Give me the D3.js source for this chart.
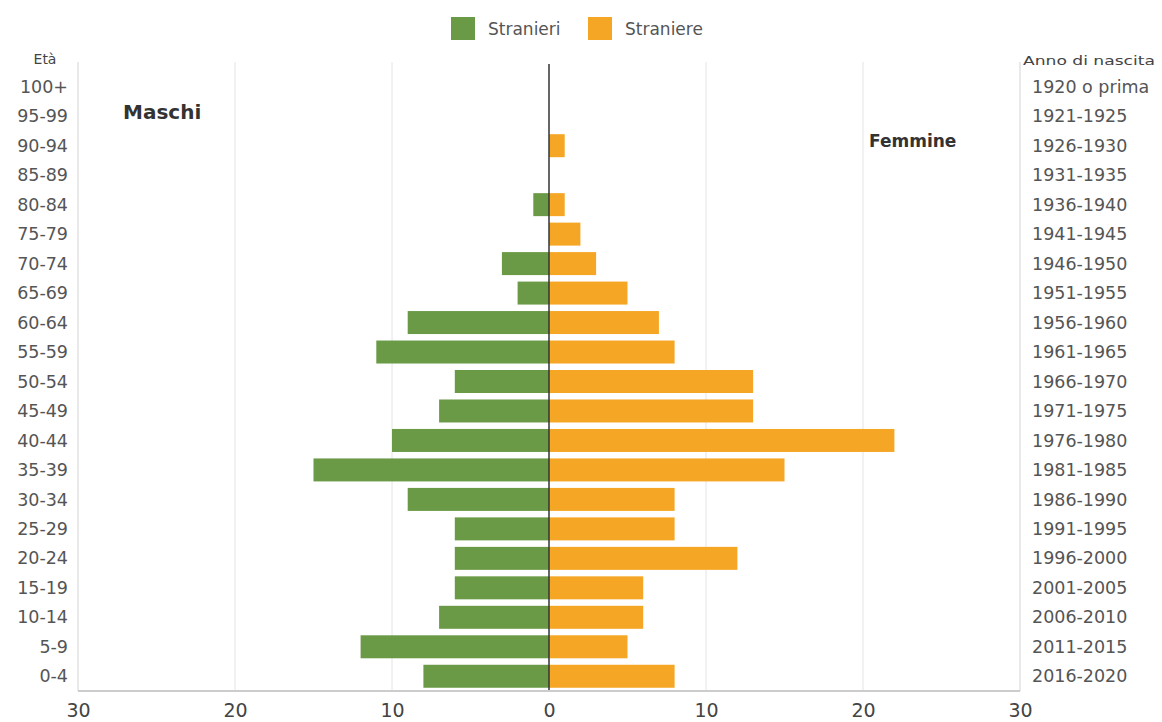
<!DOCTYPE html>
<html>
<head>
<meta charset="utf-8">
<script src="https://cdn.jsdelivr.net/npm/d3@7"></script>
<style>
  html, body { margin: 0; padding: 0; background: #fff; }
  svg { display: block; font-family: "DejaVu Sans", "Liberation Sans", Arial, sans-serif; }
</style>
</head>
<body>
<svg id="chart" width="1162" height="722"></svg>
<script>
// Fasce di età (dall'alto verso il basso) e anni di nascita corrispondenti
const ageGroups = ["100+","95-99","90-94","85-89","80-84","75-79","70-74","65-69","60-64","55-59",
  "50-54","45-49","40-44","35-39","30-34","25-29","20-24","15-19","10-14","5-9","0-4"];
const birthYears = ["1920 o prima","1921-1925","1926-1930","1931-1935","1936-1940","1941-1945",
  "1946-1950","1951-1955","1956-1960","1961-1965","1966-1970","1971-1975","1976-1980","1981-1985",
  "1986-1990","1991-1995","1996-2000","2001-2005","2006-2010","2011-2015","2016-2020"];
// Stranieri (maschi) e Straniere (femmine)
const maschi  = [0,0,0,0,1,0,3,2,9,11,6,7,10,15,9,6,6,6,7,12,8];
const femmine = [0,0,1,0,1,2,3,5,7,8,13,13,22,15,8,8,12,6,6,5,8];
const xTicks = [-30,-20,-10,0,10,20,30];
const seriesNames = ["Stranieri","Straniere"];
const colors = ["#6b9a46","#f5a624"];

const svg = d3.select("#chart");
const m = { left: 78, right: 1020, top: 72, bottom: 691 };

const x = d3.scaleLinear().domain([-30, 30]).range([m.left, m.right]);
const y = d3.scaleBand().domain(ageGroups).range([m.top, m.bottom]).paddingInner(0.22).paddingOuter(0.11);
const yRow = d3.scaleBand().domain(ageGroups).range([m.top, m.bottom]);

// griglia verticale
svg.append("g").selectAll("line")
  .data(xTicks.filter(d => Math.abs(d) !== 30 && d !== 0))
  .join("line")
  .attr("x1", d => x(d)).attr("x2", d => x(d))
  .attr("y1", m.top - 10).attr("y2", m.bottom)
  .attr("stroke", "#e4e4e4").attr("stroke-width", 1);

// barre maschi
svg.append("g").selectAll("rect")
  .data(ageGroups.map((a, i) => ({a, v: maschi[i]})))
  .join("rect")
  .attr("x", d => x(-d.v))
  .attr("width", d => x(0) - x(-d.v))
  .attr("y", d => y(d.a))
  .attr("height", y.bandwidth())
  .attr("fill", colors[0]);

// barre femmine
svg.append("g").selectAll("rect")
  .data(ageGroups.map((a, i) => ({a, v: femmine[i]})))
  .join("rect")
  .attr("x", x(0))
  .attr("width", d => x(d.v) - x(0))
  .attr("y", d => y(d.a))
  .attr("height", y.bandwidth())
  .attr("fill", colors[1]);

// asse centrale
svg.append("line")
  .attr("x1", x(0)).attr("x2", x(0))
  .attr("y1", m.top - 8).attr("y2", m.bottom)
  .attr("stroke", "#333").attr("stroke-width", 1.5);

// bordi sinistro/destro e asse inferiore
svg.append("line").attr("x1", m.left).attr("x2", m.left).attr("y1", m.top - 10).attr("y2", m.bottom)
  .attr("stroke", "#d4d4d4");
svg.append("line").attr("x1", m.right).attr("x2", m.right).attr("y1", m.top - 10).attr("y2", m.bottom)
  .attr("stroke", "#d4d4d4");
svg.append("line").attr("x1", m.left).attr("x2", m.right).attr("y1", m.bottom).attr("y2", m.bottom)
  .attr("stroke", "#cccccc").attr("stroke-width", 2);

// etichette asse x
const xAxis = d3.axisBottom(x).tickValues(xTicks).tickFormat(d => Math.abs(d)).tickSize(0).tickPadding(13);
const gx = svg.append("g").attr("transform", `translate(0,${m.bottom})`).call(xAxis);
gx.select(".domain").remove();
gx.selectAll("text").attr("font-size", 19).attr("fill", "#444")
  .attr("font-family", "DejaVu Sans, Liberation Sans, Arial, sans-serif");

// etichette età (sinistra)
svg.append("g").selectAll("text")
  .data(ageGroups)
  .join("text")
  .attr("x", m.left - 10)
  .attr("y", d => yRow(d) + yRow.bandwidth() / 2)
  .attr("dy", "0.35em")
  .attr("text-anchor", "end")
  .attr("font-size", 17.5)
  .attr("fill", "#555")
  .text(d => d);

// anni di nascita (destra)
svg.append("g").selectAll("text")
  .data(birthYears)
  .join("text")
  .attr("x", m.right + 12)
  .attr("y", (d, i) => yRow(ageGroups[i]) + yRow.bandwidth() / 2)
  .attr("dy", "0.35em")
  .attr("text-anchor", "start")
  .attr("font-size", 17.5)
  .attr("fill", "#555")
  .text(d => d);

// intestazioni
svg.append("text").attr("x", 45).attr("y", 64).attr("text-anchor", "middle")
  .attr("font-size", 14).attr("fill", "#444").text("Età");
svg.append("text").attr("x", m.right + 3).attr("y", 65).attr("text-anchor", "start")
  .attr("font-size", 13).attr("fill", "#444")
  .attr("textLength", 132).attr("lengthAdjust", "spacingAndGlyphs").text("Anno di nascita");

svg.append("text").attr("x", 123).attr("y", 119)
  .attr("font-size", 20).attr("font-weight", "bold").attr("fill", "#333").text("Maschi");
svg.append("text").attr("x", 869).attr("y", 147)
  .attr("font-size", 17).attr("font-weight", "bold").attr("fill", "#333").text("Femmine");

// legenda
const legend = svg.append("g");
const legendX = [451, 588];
seriesNames.forEach((n, i) => {
  legend.append("rect").attr("x", legendX[i]).attr("y", 17).attr("width", 24).attr("height", 23)
    .attr("fill", colors[i]);
  legend.append("text").attr("x", legendX[i] + 37).attr("y", 29).attr("dy", "0.35em")
    .attr("font-size", 17).attr("fill", "#555").text(n);
});
</script>
</body>
</html>
